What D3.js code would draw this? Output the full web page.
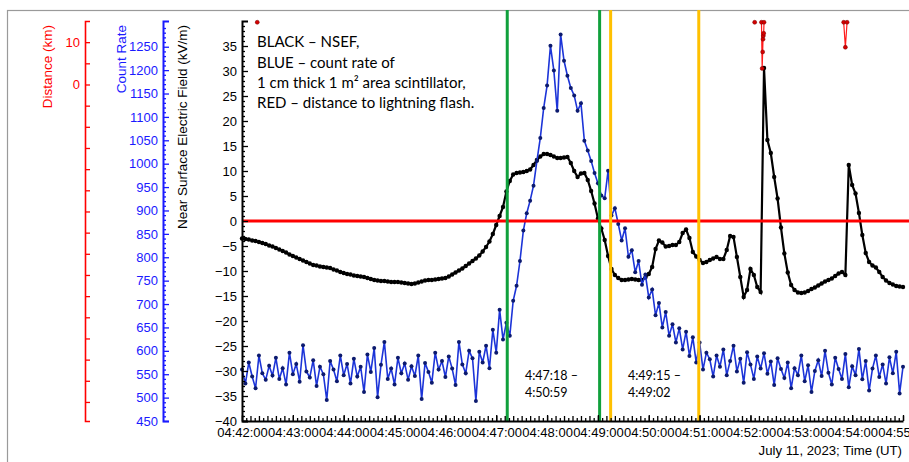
<!DOCTYPE html>
<html>
<head>
<meta charset="utf-8">
<script src="https://cdn.jsdelivr.net/npm/d3@7"></script>
<style>
  body { margin: 0; background: #fff; }
  svg { display: block; font-family: "Liberation Sans", Arial, sans-serif; }
</style>
</head>
<body>
<svg id="chart" width="909" height="462"></svg>
<script>
// both series are sampled every 4 s from 04:42:00
var startTime = "04:42:00";
var stepSec = 4;

// near surface electric field, kV/m
var nsef = [
  -3.5, -3.6, -3.7, -3.9, -4.0, -4.2, -4.4, -4.6, -4.9, -5.1,
  -5.4, -5.7, -6.0, -6.3, -6.7, -7.0, -7.3, -7.6, -7.9, -8.2,
  -8.5, -8.8, -8.9, -9.1, -9.2, -9.3, -9.4, -9.7, -9.9, -10.2,
  -10.4, -10.6, -10.7, -10.9, -11.0, -11.1, -11.2, -11.4, -11.6, -11.8,
  -11.9, -12.0, -12.0, -12.1, -12.2, -12.2, -12.2, -12.3, -12.4, -12.5,
  -12.6, -12.5, -12.3, -12.1, -11.9, -11.8, -11.8, -11.7, -11.6, -11.5,
  -11.4, -11.1, -10.7, -10.3, -9.9, -9.5, -9.0, -8.5, -8.0, -7.5,
  -6.9, -6.1, -5.2, -4.1, -2.6, -0.8, 1.0, 2.8, 5.9, 8.0,
  9.3, 9.6, 9.7, 9.8, 10.0, 10.3, 11.2, 12.2, 12.9, 13.4,
  13.4, 13.2, 12.9, 12.6, 12.6, 12.7, 12.8, 11.6, 10.0, 8.8,
  9.5, 9.6, 8.2, 6.0, 3.5, 0.5, -1.5, -3.8, -7.0, -9.6,
  -10.8, -11.4, -11.8, -11.8, -11.7, -11.6, -11.7, -11.8, -11.8, -11.3,
  -10.6, -9.2, -5.6, -3.9, -4.3, -5.1, -5.0, -4.8, -4.8, -4.2,
  -2.4, -1.7, -3.4, -6.2, -7.1, -7.8, -8.4, -8.2, -7.8, -7.5,
  -7.2, -7.6, -7.6, -5.8, -3.0, -3.2, -7.2, -11.2, -15.2, -13.8,
  -9.6, -10.8, -13.2, -14.2, 30.6, 16.2, 13.6, 8.8, 4.5, -1.3,
  -6.5, -10.3, -12.8, -13.8, -14.3, -14.4, -14.3, -14.0, -13.6, -13.3,
  -12.9, -12.5, -12.1, -11.8, -11.5, -11.0, -10.5, -10.2, -10.8, 11.2,
  7.2, 5.5, 1.6, -2.8, -6.4, -8.2, -8.9, -9.3, -10.2, -11.2,
  -11.9, -12.4, -12.7, -13.0, -13.1, -13.2
];

// scintillator count rate
var counts = [
  560, 530, 575, 545, 520, 590, 552, 538, 568, 547,
  585, 540, 563, 528, 596, 550, 572, 534, 612, 556,
  543, 580, 525, 566, 550, 495, 578, 560, 535, 590,
  548, 572, 530, 583, 545, 566, 512, 592, 555, 606,
  501, 570, 619, 540, 562, 528, 585, 552, 573, 538,
  567, 546, 590, 497, 574, 555, 532, 596, 560, 578,
  544, 588, 562, 527, 619, 571, 552, 600, 584, 493,
  598, 575, 611, 563, 645, 596, 688, 624, 660, 632,
  707, 739, 792, 857, 894, 921, 953, 1006, 1055, 1119,
  1167, 1252, 1199, 1113, 1276, 1220, 1188, 1162, 1146, 1113,
  1129, 1049, 1028, 1006, 980, 958, 932, 926, 985, 889,
  905, 871, 836, 862, 801, 815, 768, 792, 741, 763,
  714, 731, 676, 702, 650, 683, 632, 657, 618, 648,
  603, 641, 589, 629, 575, 618, 560, 596, 582, 545,
  590, 566, 603, 548, 578, 611, 556, 583, 532, 597,
  571, 540, 588, 562, 595, 551, 577, 527, 584, 561,
  542, 575, 520, 563, 548, 590, 535, 569, 512, 557,
  580, 546, 600, 553, 528, 585, 561, 540, 593, 522,
  567, 548, 604, 539, 578, 515, 562, 590, 544, 571,
  530, 586, 552, 598, 509, 566
];

// distance to lightning flash (null = gap)
var distTimes = ["04:42:18", null, "04:52:05", null,
  "04:52:13", "04:52:13.8", "04:52:14.4", "04:52:14.8", "04:52:15.2", "04:52:15.6", "04:52:16", null,
  "04:53:50", "04:53:52", "04:53:54"];
var distKm = [14.7, null, 14.7, null,
  14.7, 3.8, 7.7, 10.7, 11.5, 12.1, 14.7, null,
  14.7, 8.8, 14.7];

// marked intervals
var greenTimes = ["04:47:13", "04:49:02"];
var orangeTimes = ["04:49:15", "04:50:59"];

// tick labels
var timeTicks = ["04:42:00", "04:43:00", "04:44:00", "04:45:00", "04:46:00", "04:47:00", "04:48:00",
  "04:49:00", "04:50:00", "04:51:00", "04:52:00", "04:53:00", "04:54:00", "04:55:00"];
var fieldTicks = [-40, -35, -30, -25, -20, -15, -10, -5, 0, 5, 10, 15, 20, 25, 30, 35];
var countTicks = [450, 500, 550, 600, 650, 700, 750, 800, 850, 900, 950, 1000, 1050, 1100, 1150, 1200, 1250];
var distTicks = [0, 10];

function toDate(s) {
  var p = s.split(":").map(Number);
  return new Date(2023, 6, 11, p[0], p[1], 0, Math.round(p[2] * 1000));
}

var FONT = "'Liberation Sans', Arial, sans-serif";
var svg = d3.select("#chart");
var t0 = toDate(startTime);

var x = d3.scaleTime().domain([toDate("04:42:00"), toDate("04:55:00")]).range([242, 903]);
var yField = d3.scaleLinear().domain([-40, 40]).range([421, 21]);
var yCount = d3.scaleLinear().domain([450, 1305]).range([421, 21]);
var yDist = d3.scaleLinear().domain([-79.5, 15]).range([421, 21]);

// frame
svg.append("rect").attr("x", 7.5).attr("y", 10.5).attr("width", 1000).attr("height", 1000)
  .attr("fill", "none").attr("stroke", "#9a9a9a").attr("stroke-width", 1.2);

var black = nsef.map(function(v, i) { return {t: new Date(t0.getTime() + i * stepSec * 1000), v: v}; });
var blue = counts.map(function(v, i) { return {t: new Date(t0.getTime() + i * stepSec * 1000), v: v}; });
var red = distTimes.map(function(s, i) { return s ? {t: toDate(s), v: distKm[i]} : null; });

// black NSEF
svg.append("path").datum(black)
  .attr("fill", "none").attr("stroke", "#000").attr("stroke-width", 2.2)
  .attr("d", d3.line().x(function(d) { return x(d.t); }).y(function(d) { return yField(d.v); }));
svg.append("g").selectAll("circle").data(black).join("circle")
  .attr("cx", function(d) { return x(d.t); }).attr("cy", function(d) { return yField(d.v); })
  .attr("r", 2.2).attr("fill", "#000");

// blue count rate
svg.append("path").datum(blue)
  .attr("fill", "none").attr("stroke", "#1c34d8").attr("stroke-width", 1.6)
  .attr("d", d3.line().x(function(d) { return x(d.t); }).y(function(d) { return yCount(d.v); }));
svg.append("g").selectAll("circle").data(blue).join("circle")
  .attr("cx", function(d) { return x(d.t); }).attr("cy", function(d) { return yCount(d.v); })
  .attr("r", 2).attr("fill", "#0c1a6e");

// zero line
svg.append("line").attr("x1", 242).attr("x2", 909)
  .attr("y1", yField(0)).attr("y2", yField(0))
  .attr("stroke", "#ff0000").attr("stroke-width", 3);

// red distance
svg.append("path").datum(red)
  .attr("fill", "none").attr("stroke", "#ff1a1a").attr("stroke-width", 1.2)
  .attr("d", d3.line().defined(function(d) { return d; })
    .x(function(d) { return x(d.t); }).y(function(d) { return yDist(d.v); }));
svg.append("g").selectAll("circle").data(red.filter(function(d) { return d; })).join("circle")
  .attr("cx", function(d) { return x(d.t); }).attr("cy", function(d) { return yDist(d.v); })
  .attr("r", 2).attr("fill", "#d40000").attr("stroke", "#700").attr("stroke-width", 0.5);

// interval markers
function vlines(times, color) {
  svg.append("g").selectAll("line").data(times).join("line")
    .attr("x1", function(d) { return x(toDate(d)); }).attr("x2", function(d) { return x(toDate(d)); })
    .attr("y1", 10).attr("y2", 421)
    .attr("stroke", color).attr("stroke-width", 3);
}
vlines(greenTimes, "#10a03c");
vlines(orangeTimes, "#ffc000");

// axes
function styleAxis(g, color, w) {
  g.attr("font-family", FONT).attr("font-size", 13);
  g.selectAll("path").attr("stroke", color).attr("stroke-width", w);
  g.selectAll("line").attr("stroke", color).attr("stroke-width", 1.3);
  g.selectAll("text").attr("fill", color);
}

// distance axis
var gDist = svg.append("g").attr("transform", "translate(85,0)")
  .call(d3.axisLeft(yDist).tickValues(d3.range(-75, 11, 5))
    .tickFormat(function(d) { return distTicks.indexOf(d) >= 0 ? d : ""; })
    .tickSizeInner(-5).tickSizeOuter(-5).tickPadding(5));
styleAxis(gDist, "#ff0000", 1.6);

// count axis
var gCountMinor = svg.append("g").attr("transform", "translate(163,0)")
  .call(d3.axisLeft(yCount).tickValues(d3.range(460, 1301, 10).filter(function(d) { return d % 50; }))
    .tickSize(-3).tickFormat(""));
gCountMinor.select(".domain").remove();
styleAxis(gCountMinor, "#1a1aff", 1.6);
var gCount = svg.append("g").attr("transform", "translate(163,0)")
  .call(d3.axisLeft(yCount).tickValues(countTicks).tickFormat(d3.format("d"))
    .tickSizeInner(-6).tickSizeOuter(-6).tickPadding(5));
styleAxis(gCount, "#1a1aff", 2);

// field axis
var gFieldMinor = svg.append("g").attr("transform", "translate(242,0)")
  .call(d3.axisLeft(yField).tickValues(d3.range(-39, 40).filter(function(d) { return d % 5; }))
    .tickSize(-3).tickFormat(""));
gFieldMinor.select(".domain").remove();
styleAxis(gFieldMinor, "#000", 1.6);
var gField = svg.append("g").attr("transform", "translate(242,0)")
  .call(d3.axisLeft(yField).tickValues(fieldTicks).tickSizeInner(-6).tickSizeOuter(-6).tickPadding(5));
styleAxis(gField, "#000", 2);

// time axis
var gTimeMinor = svg.append("g").attr("transform", "translate(0,421)")
  .call(d3.axisBottom(x).ticks(d3.timeSecond.every(5)).tickSize(-3).tickFormat(""));
gTimeMinor.select(".domain").remove();
styleAxis(gTimeMinor, "#000", 2);
gTimeMinor.selectAll(".tick line").attr("y2", function(d) { return d.getSeconds() % 10 ? -3 : -5; });
var gTime = svg.append("g").attr("transform", "translate(0,421)")
  .call(d3.axisBottom(x).tickValues(timeTicks.map(toDate)).tickFormat(d3.timeFormat("%H:%M:%S"))
    .tickSizeInner(-6).tickSizeOuter(0).tickPadding(7));
styleAxis(gTime, "#000", 2);

// axis titles
function vTitle(xPos, label, color) {
  svg.append("text").attr("transform", "translate(" + xPos + ",25) rotate(-90)")
    .attr("text-anchor", "end").attr("font-size", 13.5).attr("fill", color).text(label);
}
vTitle(52, "Distance (km)", "#ff0000");
vTitle(126, "Count Rate", "#1a1aff");
vTitle(187, "Near Surface Electric Field (kV/m)", "#000");

svg.append("text").attr("x", 902).attr("y", 455).attr("text-anchor", "end")
  .attr("font-size", 13.2).text("July 11, 2023; Time (UT)");

// notes
var notes = svg.append("g").attr("font-family", "Lato, 'Open Sans', sans-serif").attr("fill", "#000");
var legendLines = ["BLACK \u2013 NSEF,", "BLUE \u2013 count rate of", "1 cm thick 1 m\u00b2 area scintillator,", "RED \u2013 distance to lightning flash."];
notes.selectAll("text.leg").data(legendLines).join("text").attr("class", "leg")
  .attr("x", 257).attr("y", function(d, i) { return 47.3 + i * 20.3; })
  .attr("font-size", 15).text(function(d) { return d; });

var intervalNotes = [["4:47:18 \u2013", "4:50:59"], ["4:49:15 \u2013", "4:49:02"]];
var noteX = [525, 628];
intervalNotes.forEach(function(pair, k) {
  pair.forEach(function(s, i) {
    notes.append("text").attr("x", noteX[k]).attr("y", 380 + i * 17)
      .attr("font-size", 12.5).text(s);
  });
});
</script>
</body>
</html>
